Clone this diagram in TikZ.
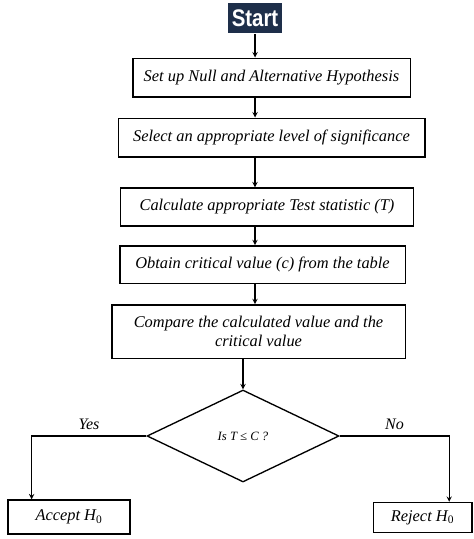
\documentclass[tikz,border=0pt]{standalone}
\usepackage{fontspec}
\setmainfont{Liberation Serif}
\newfontfamily\startfont{Liberation Sans}
\usetikzlibrary{shapes.geometric}
\definecolor{startblue}{HTML}{1E2F4A}
\begin{document}
\begin{tikzpicture}[x=0.75pt,y=-0.75pt,thick,>=stealth,
  procbox/.style={draw,line width=1pt,inner sep=0pt,align=center,font=\fontsize{12.3}{14.5}\selectfont\itshape},
  decision/.style={draw,line width=1pt,diamond,inner sep=0pt,font=\fontsize{9.5}{11}\selectfont\itshape}]
\useasboundingbox (0,0) rectangle (474,539);
\node[fill=startblue,text=white,inner sep=0pt,minimum width=41pt,minimum height=23pt,
  font=\startfont\bfseries\fontsize{18}{18}\selectfont] (start) at (255,18) {\scalebox{0.85}[1]{Start}};
\node[procbox,minimum width=208pt,minimum height=29pt] (setup) at (271.5,77.5) {Set up Null and Alternative Hypothesis};
\node[procbox,minimum width=230pt,minimum height=29pt] (level) at (271.5,137.5) {Select an appropriate level of significance};
\node[procbox,minimum width=220pt,minimum height=28.5pt] (stat) at (267,207) {Calculate appropriate Test statistic (T)};
\node[procbox,minimum width=214pt,minimum height=28pt] (crit) at (262.5,264.5) {Obtain critical value (c) from the table};
\node[procbox,minimum width=220pt,minimum height=40pt] (comp) at (258.5,331.5) {Compare the calculated value and the\\critical value};
\node[decision,minimum width=144pt,minimum height=69pt] (decide) at (243,436) {Is T ≤ C ?};
\node[procbox,minimum width=91.5pt,minimum height=25.5pt] (accept) at (69,517) {Accept H\textsubscript{\upshape 0}};
\node[procbox,minimum width=74pt,minimum height=22.5pt] (reject) at (422.5,517.5) {Reject H\textsubscript{\upshape 0}};
% main column
\draw[->] (start) -- (start |- setup.north);
\draw[->] (setup.south -| start) -- (start |- level.north);
\draw[->] (level.south -| start) -- (start |- stat.north);
\draw[->] (stat.south -| start) -- (start |- crit.north);
\draw[->] (crit.south -| start) -- (start |- comp.north);
\draw[->] (comp.south -| decide) -- (decide.north);
% branches
\draw[->] (decide.west) -| node[pos=0.25,above=1pt,font=\fontsize{12}{14}\selectfont\itshape] {Yes} ([xshift=-28pt]accept.north);
\draw[->] (decide.east) -| node[pos=0.25,above=1pt,font=\fontsize{12}{14}\selectfont\itshape] {No} ([xshift=20pt]reject.north);
\end{tikzpicture}
\end{document}
